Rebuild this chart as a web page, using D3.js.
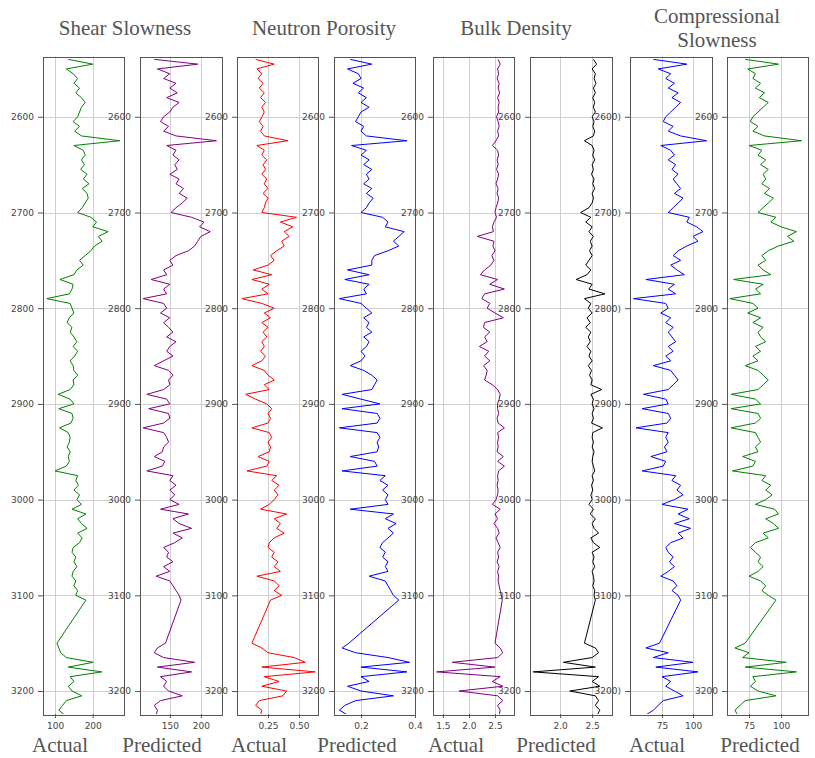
<!DOCTYPE html>
<html>
<head>
<meta charset="utf-8">
<script src="https://cdn.jsdelivr.net/npm/d3@7"></script>
<style>
  body { margin: 0; background: #fff; }
  .tick text { font-family: "DejaVu Sans", sans-serif; font-size: 9px; fill: #444; }
  .label { font-family: "Liberation Serif", "Times New Roman", serif; font-size: 21px; fill: #555; }
</style>
</head>
<body>
<div class="chart-container"></div>
<script>
// depth samples (ft) - nothing logged between 3105 and 3150
const depth = [
  2540,2545,2550,2555,2560,2565,2570,2575,2580,2585,
  2590,2595,2600,2605,2610,2615,2620,2625,2630,2635,
  2640,2645,2650,2655,2660,2665,2670,2675,2680,2685,
  2690,2695,2700,2705,2710,2715,2720,2725,2730,2735,
  2740,2745,2750,2755,2760,2765,2770,2775,2780,2785,
  2790,2795,2800,2805,2810,2815,2820,2825,2830,2835,
  2840,2845,2850,2855,2860,2865,2870,2875,2880,2885,
  2890,2895,2900,2905,2910,2915,2920,2925,2930,2935,
  2940,2945,2950,2955,2960,2965,2970,2975,2980,2985,
  2990,2995,3000,3005,3010,3015,3020,3025,3030,3035,
  3040,3045,3050,3055,3060,3065,3070,3075,3080,3085,
  3090,3095,3100,3105,
  3150,3155,3160,3165,3170,3175,3180,3185,3190,3195,
  3200,3205,3210,3215,3220,3225
];

const shearActual = [
  135,200,130,148,160,150,165,155,170,180,
  170,165,160,148,165,152,170,272,150,175,
  180,170,178,168,185,175,190,172,185,188,
  180,172,160,195,210,200,241,215,225,205,
  195,180,165,175,158,150,113,148,145,138,
  78,140,145,150,138,132,145,140,150,158,
  148,160,152,140,148,150,160,148,150,140,
  108,140,150,110,145,148,142,112,135,140,
  138,132,140,135,138,130,100,160,155,162,
  150,165,158,170,145,182,160,170,185,160,
  172,165,148,145,155,150,158,148,145,155,
  150,160,155,182,
  105,110,115,130,201,135,224,140,150,135,
  145,171,130,120,110,125
];
const shearPredicted = [
  125,195,130,150,140,160,150,162,145,165,
  155,150,140,135,148,140,160,225,145,160,
  155,165,158,162,150,165,160,172,165,178,
  170,160,152,185,205,198,215,200,195,190,
  180,160,150,155,140,145,120,150,140,145,
  107,140,145,135,150,140,148,155,145,160,
  150,145,155,140,125,148,155,148,150,140,
  113,145,150,116,148,150,140,107,140,145,
  148,140,138,125,142,138,113,155,150,160,
  150,158,150,165,135,180,155,165,185,155,
  170,158,140,148,145,155,140,150,128,150,
  155,160,165,168,
  143,130,125,140,190,130,185,135,145,140,
  148,170,135,125,130,128
];
const neutronActual = [
  0.15,0.30,0.16,0.20,0.17,0.21,0.18,0.22,0.19,0.23,
  0.20,0.22,0.20,0.18,0.21,0.19,0.22,0.41,0.16,0.22,
  0.20,0.24,0.21,0.23,0.20,0.24,0.22,0.25,0.21,0.25,
  0.23,0.22,0.20,0.48,0.35,0.45,0.38,0.42,0.36,0.38,
  0.32,0.27,0.30,0.25,0.13,0.28,0.12,0.26,0.20,0.25,
  0.04,0.20,0.30,0.22,0.27,0.20,0.25,0.21,0.24,0.20,
  0.22,0.19,0.23,0.20,0.12,0.22,0.25,0.30,0.22,0.26,
  0.07,0.15,0.24,0.28,0.25,0.27,0.25,0.12,0.26,0.28,
  0.25,0.27,0.26,0.17,0.26,0.24,0.08,0.32,0.28,0.34,
  0.30,0.33,0.30,0.26,0.19,0.40,0.30,0.35,0.32,0.38,
  0.30,0.26,0.25,0.30,0.28,0.33,0.30,0.35,0.16,0.30,
  0.34,0.30,0.36,0.27,
  0.12,0.20,0.25,0.46,0.55,0.20,0.63,0.22,0.34,0.20,
  0.40,0.37,0.18,0.15,0.20,0.19
];
const neutronPredicted = [
  0.16,0.24,0.15,0.19,0.20,0.17,0.21,0.19,0.22,0.20,
  0.23,0.20,0.19,0.18,0.21,0.20,0.22,0.37,0.165,0.22,
  0.20,0.23,0.21,0.24,0.22,0.23,0.21,0.24,0.22,0.245,
  0.23,0.22,0.20,0.28,0.30,0.29,0.36,0.34,0.32,0.34,
  0.30,0.25,0.24,0.24,0.15,0.23,0.14,0.23,0.21,0.22,
  0.12,0.20,0.22,0.24,0.21,0.23,0.22,0.24,0.21,0.23,
  0.22,0.20,0.215,0.20,0.16,0.21,0.24,0.26,0.25,0.24,
  0.13,0.20,0.27,0.13,0.26,0.27,0.26,0.12,0.26,0.27,
  0.26,0.265,0.26,0.16,0.25,0.26,0.13,0.29,0.27,0.30,
  0.28,0.30,0.29,0.30,0.16,0.32,0.29,0.33,0.30,0.32,
  0.30,0.28,0.27,0.29,0.28,0.30,0.29,0.30,0.23,0.29,
  0.30,0.31,0.32,0.34,
  0.155,0.13,0.18,0.30,0.38,0.20,0.37,0.20,0.23,0.15,
  0.20,0.32,0.18,0.14,0.12,0.15
];
const densityActual = [
  2.56,2.60,2.55,2.57,2.54,2.58,2.56,2.59,2.55,2.58,
  2.56,2.57,2.53,2.56,2.58,2.55,2.57,2.52,2.45,2.55,
  2.57,2.54,2.56,2.53,2.57,2.55,2.52,2.56,2.54,2.57,
  2.55,2.52,2.50,2.53,2.48,2.45,2.47,2.16,2.48,2.46,
  2.50,2.44,2.48,2.42,2.30,2.22,2.55,2.40,2.68,2.30,
  2.25,2.40,2.35,2.50,2.66,2.30,2.28,2.40,2.30,2.35,
  2.20,2.38,2.30,2.40,2.28,2.35,2.33,2.30,2.45,2.55,
  2.60,2.58,2.55,2.55,2.57,2.54,2.56,2.68,2.55,2.57,
  2.55,2.56,2.54,2.66,2.55,2.68,2.57,2.55,2.56,2.54,
  2.56,2.55,2.52,2.45,2.60,2.50,2.55,2.48,2.55,2.58,
  2.52,2.56,2.60,2.55,2.57,2.54,2.58,2.55,2.57,2.56,
  2.58,2.60,2.62,2.64,
  2.50,2.60,2.65,2.55,1.68,2.50,1.38,2.60,2.45,2.65,
  1.81,2.55,2.65,2.55,2.60,2.58
];
const densityPredicted = [
  2.52,2.57,2.50,2.55,2.53,2.56,2.52,2.55,2.51,2.54,
  2.52,2.55,2.50,2.53,2.51,2.54,2.52,2.38,2.50,2.53,
  2.51,2.54,2.50,2.52,2.49,2.53,2.51,2.54,2.50,2.52,
  2.50,2.45,2.32,2.48,2.40,2.50,2.45,2.52,2.47,2.50,
  2.46,2.50,2.45,2.40,2.48,2.42,2.25,2.50,2.45,2.70,
  2.38,2.48,2.44,2.50,2.42,2.47,2.40,2.48,2.44,2.47,
  2.42,2.48,2.45,2.50,2.44,2.49,2.46,2.50,2.48,2.65,
  2.48,2.52,2.50,2.53,2.50,2.52,2.49,2.66,2.51,2.50,
  2.52,2.50,2.53,2.51,2.50,2.52,2.54,2.50,2.52,2.49,
  2.51,2.48,2.50,2.45,2.52,2.47,2.55,2.50,2.53,2.60,
  2.48,2.52,2.62,2.50,2.53,2.51,2.54,2.50,2.52,2.53,
  2.51,2.54,2.53,2.55,
  2.38,2.55,2.60,2.50,2.05,2.55,1.58,2.60,2.50,2.62,
  2.15,2.55,2.60,2.55,2.62,2.58
];
const compActual = [
  68,95,72,82,78,85,80,88,83,90,
  86,82,78,76,84,80,90,111,74,82,
  85,80,86,83,88,84,87,90,85,92,
  88,84,80,97,95,103,108,100,104,95,
  88,84,90,82,87,93,62,85,80,86,
  52,78,80,74,82,78,84,80,83,86,
  80,84,78,82,68,82,85,88,84,80,
  60,78,80,59,80,82,79,54,80,78,
  80,77,79,66,78,76,59,86,83,90,
  87,92,85,75,96,88,97,85,98,88,
  92,82,78,80,84,81,85,80,74,84,
  87,83,88,90,
  73,62,80,68,100,70,104,75,82,78,
  85,92,76,72,68,62
];
const compPredicted = [
  72,98,74,80,78,84,80,87,83,90,
  86,82,78,76,82,78,87,116,75,85,
  82,88,84,90,86,88,85,91,87,94,
  90,86,82,96,92,100,112,105,110,98,
  90,85,88,82,86,92,63,86,80,84,
  60,78,82,74,84,78,86,82,84,88,
  80,84,78,82,72,82,86,90,86,82,
  61,80,84,61,82,84,80,61,80,82,
  84,80,82,70,80,78,62,88,85,92,
  88,93,88,80,95,98,88,94,98,86,
  90,80,76,80,84,82,86,82,75,84,
  88,85,90,96,
  72,64,75,70,104,72,112,78,80,76,
  82,96,72,68,64,66
];

const titles = [["Shear Slowness"], ["Neutron Porosity"], ["Bulk Density"], ["Compressional", "Slowness"]];
const subLabels = ["Actual", "Predicted", "Actual", "Predicted", "Actual", "Predicted", "Actual", "Predicted"];
const depthTicks = [2600, 2700, 2800, 2900, 3000, 3100, 3200];
const xTicks = [[100, 200], [150, 200], [0.25, 0.5], [0.2, 0.4], [1.5, 2.0, 2.5], [2.0, 2.5], [75, 100], [75, 100]];

// panel setup
const panels = [
  {values: shearActual,      color: "#008000", left: 43,  right: 124, domain: [68, 283],     fmt: "d"},
  {values: shearPredicted,   color: "#800080", left: 140, right: 222, domain: [102, 234],    fmt: "d"},
  {values: neutronActual,    color: "#ff0000", left: 237, right: 318, domain: [0, 0.653],    fmt: ".2f"},
  {values: neutronPredicted, color: "#0000ff", left: 334, right: 415, domain: [0.1, 0.4],    fmt: ".1f"},
  {values: densityActual,    color: "#800080", left: 433, right: 514, domain: [1.31, 2.865], fmt: ".1f"},
  {values: densityPredicted, color: "#000000", left: 530, right: 612, domain: [1.53, 2.81],  fmt: ".1f"},
  {values: compActual,       color: "#0000ff", left: 630, right: 712, domain: [49.2, 115.3], fmt: "d", suffix: ")"},
  {values: compPredicted,    color: "#008000", left: 727, right: 808, domain: [57.8, 121],   fmt: "d"}
];

const width = 815;
const height = 758;
const marginTop = 56.5;
const plotBottom = 714;

const y = d3.scaleLinear()
    .domain([2537, 3224])
    .range([marginTop, plotBottom]);

const svg = d3.select(".chart-container").append("svg")
    .attr("width", width)
    .attr("height", height)
    .style("background", "#fff");

panels.forEach((p, i) => {
    const x = d3.scaleLinear().domain(p.domain).range([p.left, p.right]);
    const g = svg.append("g");

    // grid
    g.selectAll(".vgrid").data(xTicks[i]).enter().append("line")
        .attr("x1", d => Math.round(x(d)) + 0.5).attr("x2", d => Math.round(x(d)) + 0.5)
        .attr("y1", marginTop).attr("y2", plotBottom)
        .attr("stroke", "#cfcfcf");
    g.selectAll(".hgrid").data(depthTicks).enter().append("line")
        .attr("x1", p.left).attr("x2", p.right)
        .attr("y1", d => Math.round(y(d)) + 0.5).attr("y2", d => Math.round(y(d)) + 0.5)
        .attr("stroke", "#cfcfcf");

    // curve (the gap is simply bridged by a straight segment)
    const clipId = "clip" + i;
    svg.append("clipPath").attr("id", clipId).append("rect")
        .attr("x", p.left).attr("y", marginTop)
        .attr("width", p.right - p.left).attr("height", plotBottom - marginTop);

    const line = d3.line()
        .x(d => x(d))
        .y((d, j) => y(depth[j]));

    g.append("path")
        .datum(p.values)
        .attr("clip-path", `url(#${clipId})`)
        .attr("fill", "none")
        .attr("stroke", p.color)
        .attr("stroke-width", 1)
        .attr("d", line);

    // axes
    const fmt = d3.format(p.fmt);
    g.append("g")
        .attr("transform", `translate(${p.left},0)`)
        .call(d3.axisLeft(y).tickValues(depthTicks).tickSize(5).tickPadding(4)
            .tickFormat(d => d + (p.suffix || "")))
        .call(a => a.select(".domain").remove())
        .call(a => a.selectAll(".tick line").attr("stroke", "#555"));

    g.append("g")
        .attr("transform", `translate(0,${plotBottom})`)
        .call(d3.axisBottom(x).tickValues(xTicks[i]).tickSize(4).tickPadding(5).tickFormat(fmt))
        .call(a => a.select(".domain").remove())
        .call(a => a.selectAll(".tick line").attr("stroke", "#555"));

    // frame
    g.append("rect")
        .attr("x", p.left + 0.5).attr("y", Math.round(marginTop) + 0.5)
        .attr("width", p.right - p.left).attr("height", Math.round(plotBottom - marginTop))
        .attr("fill", "none")
        .attr("stroke", "#555");
});

// titles over each pair of tracks
const titleX = [125, 324, 516, 717];
titles.forEach((lines, k) => {
    const t = svg.append("text")
        .attr("class", "label")
        .attr("text-anchor", "middle")
        .attr("x", titleX[k])
        .attr("y", lines.length > 1 ? 23 : 35);
    lines.forEach((s, n) => {
        t.append("tspan").attr("x", titleX[k]).attr("dy", n ? 24 : 0).text(s);
    });
});

// actual / predicted labels
const subX = [60, 162, 259, 357, 456, 556, 657, 760];
svg.selectAll(".sub").data(subLabels).enter().append("text")
    .attr("class", "label")
    .attr("text-anchor", "middle")
    .attr("x", (d, i) => subX[i])
    .attr("y", 752)
    .text(d => d);
</script>
</body>
</html>
